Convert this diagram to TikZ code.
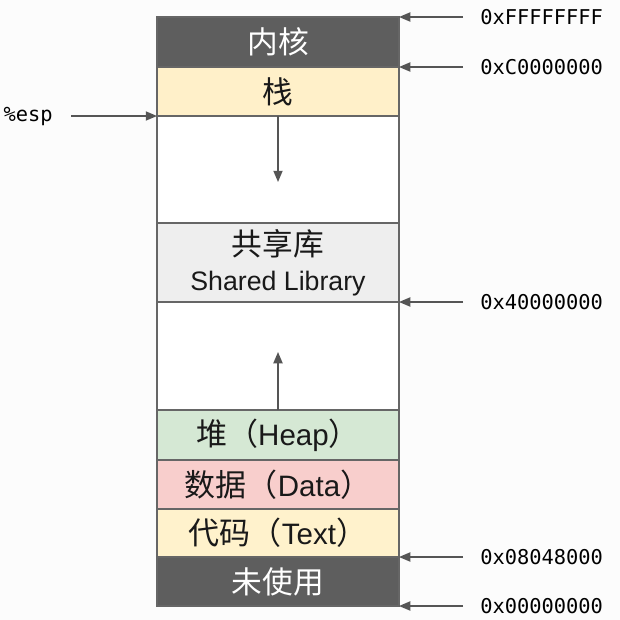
\documentclass[tikz,border=0pt]{standalone}
\usepackage{fontspec}
\setmainfont{Liberation Sans}
\setmonofont{DejaVu Sans Mono}
\newfontfamily\cjk{Noto Sans CJK SC}[Scale=1.15]
\newfontfamily\cjkm{Noto Sans CJK SC}[Scale=1.05]
\usetikzlibrary{positioning,arrows.meta}
\definecolor{cBg}{HTML}{FCFCFC}
\definecolor{cDark}{HTML}{5E5E5E}
\definecolor{cLine}{HTML}{666666}
\definecolor{cArr}{HTML}{555555}
\definecolor{cStack}{HTML}{FFF0C9}
\definecolor{cLib}{HTML}{EEEEEE}
\definecolor{cHeap}{HTML}{D5E8D4}
\definecolor{cData}{HTML}{F8CECC}
\definecolor{cText}{HTML}{FFF2CC}
\newcommand{\zh}[1]{{\cjk #1}}
\newcommand{\zhm}[1]{{\cjkm #1}}
\tikzset{
  seg/.style={rectangle,draw=cLine,line width=0.8pt,minimum width=6.05cm,minimum height=1.225cm,inner sep=0pt,outer sep=0pt,align=center,text=black!90,font=\fontsize{19}{25}\selectfont},
  dark/.style={seg,fill=cDark,text=white},
  mixed/.style={seg,font=\fontsize{21}{25}\selectfont},
  addr/.style={font=\ttfamily\fontsize{14.5}{17}\selectfont,inner sep=0pt},
  ptr/.style={-{Triangle[length=8pt,width=6.5pt]},line width=1pt,draw=cArr},
}

\begin{document}
\begin{tikzpicture}
  \fill[cBg] (0,0) rectangle (15.5,-15.5);
  \useasboundingbox (0,0) rectangle (15.5,-15.5);
  % memory segments, top to bottom
  \node[dark,minimum height=1.25cm,anchor=north west] (kern) at (3.925,-0.425) {\zh{内核}};
  \node[seg,fill=cStack,below=0pt of kern] (stack) {\zh{栈}};
  \node[seg,fill=white,minimum height=2.675cm,below=0pt of stack] (gap1) {};
  \node[seg,fill=cLib,minimum height=1.975cm,below=0pt of gap1] (lib) {\zh{共享库}\\Shared Library};
  \node[seg,fill=white,minimum height=2.7cm,below=0pt of lib] (gap2) {};
  \node[mixed,fill=cHeap,minimum height=1.25cm,below=0pt of gap2] (heap) {\zhm{堆（}Heap\zhm{）}};
  \node[mixed,fill=cData,below=0pt of heap] (data) {\zhm{数据（}Data\zhm{）}};
  \node[mixed,fill=cText,minimum height=1.2cm,below=0pt of data] (text) {\zhm{代码（}Text\zhm{）}};
  \node[dark,below=0pt of text] (unused) {\zh{未使用}};
  % growth arrows
  \coordinate[below=1.65cm of stack.south] (stackend);
  \coordinate[above=1.45cm of heap.north] (heapend);
  \draw[ptr] (stack.south) -- (stackend);
  \draw[ptr] (heap.north) -- (heapend);
  % addresses
  \node[addr,right=2.025cm of kern.north east] (aTop) {0xFFFFFFFF};
  \node[addr,right=2.025cm of stack.north east] (aKern) {0xC0000000};
  \node[addr,right=2.025cm of lib.south east] (aLib) {0x40000000};
  \node[addr,right=2.025cm of unused.north east] (aText) {0x08048000};
  \node[addr,right=2.025cm of unused.south east] (aZero) {0x00000000};
  \node[addr,left=2.6cm of stack.south west] (esp) {\%esp};
  \draw[ptr,shorten <=0.425cm] (aTop.west) -- (kern.north east);
  \draw[ptr,shorten <=0.425cm] (aKern.west) -- (stack.north east);
  \draw[ptr,shorten <=0.425cm] (aLib.west) -- (lib.south east);
  \draw[ptr,shorten <=0.425cm] (aText.west) -- (unused.north east);
  \draw[ptr,shorten <=0.425cm] (aZero.west) -- (unused.south east);
  \draw[ptr,shorten <=0.45cm] (esp.east) -- (stack.south west);
\end{tikzpicture}
\end{document}
